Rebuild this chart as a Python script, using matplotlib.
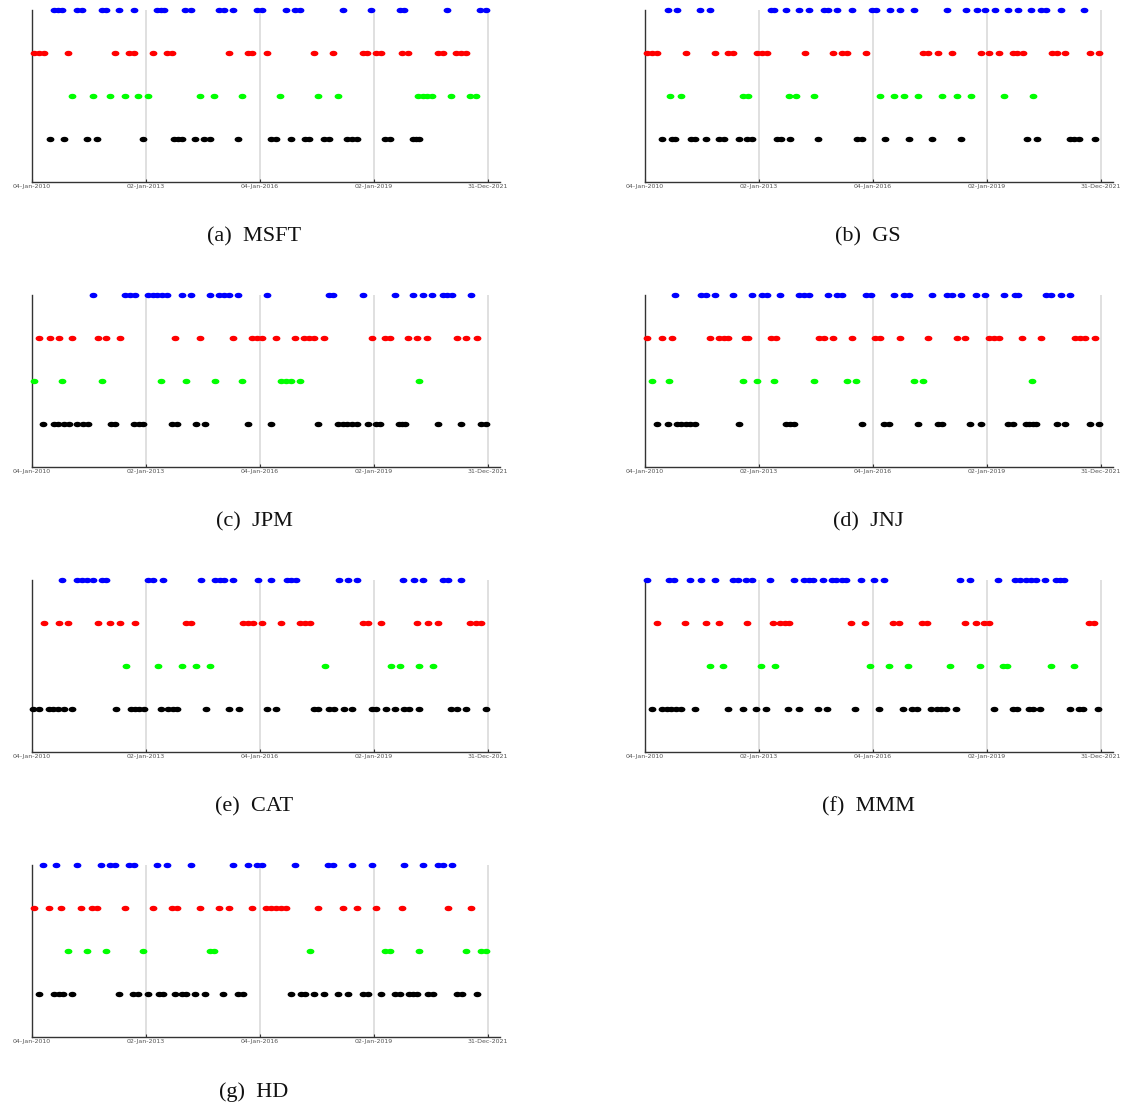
import numpy as np
import matplotlib
matplotlib.use("Agg")
import matplotlib.pyplot as plt
from matplotlib.path import Path

# --- Signal dates per stock (decimal years), one list per level ---
# level order: black (1), green (2), red (3), blue (4)

msft_black = [2010.47, 2010.84, 2011.46, 2011.72, 2012.94, 2013.75, 2013.84, 2013.95, 2014.30, 2014.54,
              2014.68, 2015.43, 2016.29, 2016.42, 2016.82, 2017.18, 2017.31, 2017.69, 2017.82, 2018.31,
              2018.43, 2018.55, 2019.30, 2019.43, 2020.04, 2020.11, 2020.19]
msft_green = [2011.06, 2011.61, 2012.06, 2012.46, 2012.81, 2013.06, 2014.44, 2014.81, 2015.54, 2016.54,
              2017.54, 2018.06, 2020.17, 2020.29, 2020.41, 2020.54, 2021.04, 2021.54, 2021.69]
msft_red = [2010.06, 2010.20, 2010.33, 2010.95, 2012.19, 2012.57, 2012.68, 2013.19, 2013.55, 2013.68,
            2015.18, 2015.68, 2015.81, 2016.18, 2017.42, 2017.92, 2018.71, 2018.83, 2019.05, 2019.18,
            2019.75, 2019.90, 2020.68, 2020.82, 2021.17, 2021.30, 2021.43]
msft_blue = [2010.60, 2010.70, 2010.81, 2011.18, 2011.32, 2011.84, 2011.96, 2012.31, 2012.69, 2013.31,
             2013.39, 2013.48, 2014.04, 2014.18, 2014.93, 2015.06, 2015.29, 2015.92, 2016.05, 2016.69,
             2016.93, 2017.06, 2018.18, 2018.94, 2019.69, 2019.81, 2020.92, 2021.80, 2021.95]

gs_black = [2010.46, 2010.71, 2010.80, 2011.21, 2011.32, 2011.61, 2011.96, 2012.08, 2012.47, 2012.68,
            2012.83, 2013.47, 2013.58, 2013.83, 2014.57, 2015.58, 2015.71, 2016.32, 2016.96, 2017.56,
            2018.33, 2020.06, 2020.32, 2021.19, 2021.31, 2021.44, 2021.85]
gs_green = [2010.66, 2010.95, 2012.60, 2012.72, 2013.80, 2013.97, 2014.46, 2016.19, 2016.56, 2016.83,
            2017.20, 2017.83, 2018.22, 2018.58, 2019.46, 2020.21]
gs_red = [2010.05, 2010.18, 2010.32, 2011.08, 2011.85, 2012.20, 2012.32, 2012.95, 2013.08, 2013.21,
          2014.21, 2014.96, 2015.20, 2015.32, 2015.82, 2017.33, 2017.46, 2017.73, 2018.08, 2018.86,
          2019.07, 2019.32, 2019.70, 2019.79, 2019.95, 2020.71, 2020.85, 2021.06, 2021.72, 2021.96]
gs_blue = [2010.61, 2010.85, 2011.46, 2011.73, 2013.32, 2013.40, 2013.71, 2014.07, 2014.32, 2014.72,
           2014.83, 2015.07, 2015.46, 2015.97, 2016.08, 2016.46, 2016.72, 2017.08, 2017.96, 2018.46,
           2018.74, 2018.96, 2019.21, 2019.57, 2019.82, 2020.16, 2020.43, 2020.56, 2020.96, 2021.56]

jpm_black = [2010.31, 2010.59, 2010.70, 2010.86, 2010.97, 2011.20, 2011.34, 2011.47, 2012.09, 2012.20,
             2012.68, 2012.82, 2012.94, 2013.70, 2013.82, 2014.32, 2014.56, 2015.68, 2016.30, 2017.54,
             2018.05, 2018.18, 2018.31, 2018.44, 2018.56, 2018.85, 2019.05, 2019.17, 2019.67, 2019.75,
             2019.82, 2020.69, 2021.30, 2021.82, 2021.95]
jpm_green = [2010.06, 2010.79, 2011.86, 2013.39, 2014.06, 2014.82, 2015.54, 2016.55, 2016.69, 2016.82,
             2017.06, 2020.18]
jpm_red = [2010.19, 2010.47, 2010.73, 2011.07, 2011.74, 2011.96, 2012.32, 2013.78, 2014.44, 2015.30,
           2015.81, 2015.94, 2016.05, 2016.43, 2016.93, 2017.17, 2017.31, 2017.43, 2017.69, 2018.95,
           2019.31, 2019.43, 2019.91, 2020.13, 2020.41, 2021.19, 2021.44, 2021.72]
jpm_blue = [2011.61, 2012.46, 2012.59, 2012.71, 2013.06, 2013.18, 2013.31, 2013.44, 2013.57, 2013.96,
            2014.19, 2014.69, 2014.94, 2015.06, 2015.18, 2015.43, 2016.18, 2017.82, 2017.93, 2018.71,
            2019.55, 2020.04, 2020.29, 2020.54, 2020.82, 2020.94, 2021.05, 2021.55]

jnj_black = [2010.32, 2010.61, 2010.84, 2010.96, 2011.08, 2011.20, 2011.32, 2012.47, 2013.71, 2013.82,
             2013.94, 2015.71, 2016.30, 2016.44, 2017.20, 2017.72, 2017.82, 2018.57, 2018.85, 2019.55,
             2019.69, 2020.04, 2020.12, 2020.21, 2020.30, 2020.84, 2021.06, 2021.72, 2021.96]
jnj_green = [2010.19, 2010.65, 2012.60, 2012.95, 2013.39, 2014.46, 2015.32, 2015.56, 2017.08, 2017.32,
             2020.20]
jnj_red = [2010.06, 2010.46, 2010.72, 2011.72, 2011.96, 2012.08, 2012.20, 2012.65, 2012.72, 2013.33,
           2013.46, 2014.59, 2014.71, 2014.96, 2015.46, 2016.07, 2016.19, 2016.73, 2017.46, 2018.21,
           2018.44, 2019.07, 2019.20, 2019.32, 2019.93, 2020.42, 2021.32, 2021.46, 2021.58, 2021.84]
jnj_blue = [2010.79, 2011.47, 2011.61, 2011.85, 2012.32, 2012.83, 2013.08, 2013.21, 2013.57, 2014.06,
            2014.19, 2014.32, 2014.82, 2015.07, 2015.20, 2015.82, 2015.96, 2016.56, 2016.83, 2016.96,
            2017.56, 2017.95, 2018.08, 2018.32, 2018.73, 2018.96, 2019.45, 2019.74, 2019.82, 2020.56,
            2020.69, 2020.96, 2021.20]

cat_black = [2010.04, 2010.20, 2010.46, 2010.57, 2010.68, 2010.85, 2011.07, 2012.21, 2012.61, 2012.72,
             2012.83, 2012.96, 2013.39, 2013.58, 2013.71, 2013.83, 2014.58, 2015.19, 2015.45, 2016.19,
             2016.44, 2017.43, 2017.54, 2017.83, 2017.95, 2018.21, 2018.44, 2018.95, 2019.07, 2019.32,
             2019.56, 2019.81, 2019.93, 2020.19, 2021.04, 2021.18, 2021.44, 2021.96]
cat_green = [2012.48, 2013.33, 2013.96, 2014.32, 2014.70, 2017.71, 2019.45, 2019.69, 2020.19, 2020.55]
cat_red = [2010.32, 2010.72, 2010.96, 2011.74, 2012.07, 2012.32, 2012.71, 2014.06, 2014.20, 2015.56,
           2015.69, 2015.82, 2016.06, 2016.55, 2017.06, 2017.19, 2017.32, 2018.73, 2018.85, 2019.20,
           2020.14, 2020.42, 2020.69, 2021.54, 2021.68, 2021.82]
cat_blue = [2010.79, 2011.19, 2011.32, 2011.46, 2011.61, 2011.84, 2011.96, 2013.07, 2013.20, 2013.46,
            2014.46, 2014.82, 2014.96, 2015.07, 2015.31, 2015.95, 2016.31, 2016.71, 2016.82, 2016.95,
            2018.08, 2018.32, 2018.57, 2019.76, 2020.05, 2020.30, 2020.83, 2020.95, 2021.30]

mmm_black = [2010.19, 2010.46, 2010.58, 2010.70, 2010.82, 2010.95, 2011.32, 2012.19, 2012.58, 2012.93,
             2013.19, 2013.77, 2014.05, 2014.55, 2014.81, 2015.54, 2016.17, 2016.81, 2017.04, 2017.16,
             2017.54, 2017.68, 2017.80, 2017.92, 2018.19, 2019.18, 2019.68, 2019.80, 2020.11, 2020.21,
             2020.41, 2021.18, 2021.43, 2021.54, 2021.93]
mmm_green = [2011.72, 2012.07, 2013.07, 2013.44, 2015.93, 2016.42, 2016.93, 2018.04, 2018.82, 2019.42,
             2019.54, 2020.68, 2021.29]
mmm_red = [2010.32, 2011.06, 2011.61, 2011.95, 2012.69, 2013.37, 2013.56, 2013.68, 2013.81, 2015.42,
           2015.81, 2016.54, 2016.68, 2017.31, 2017.43, 2018.43, 2018.71, 2018.93, 2019.05, 2021.69,
           2021.82]
mmm_blue = [2010.05, 2010.64, 2010.78, 2011.19, 2011.47, 2011.84, 2012.32, 2012.46, 2012.66, 2012.82,
            2013.31, 2013.94, 2014.19, 2014.32, 2014.44, 2014.68, 2014.92, 2015.04, 2015.18, 2015.30,
            2015.68, 2016.03, 2016.29, 2018.30, 2018.55, 2019.29, 2019.75, 2019.89, 2020.03, 2020.17,
            2020.29, 2020.54, 2020.82, 2020.93, 2021.04]

hd_black = [2010.19, 2010.60, 2010.71, 2010.83, 2011.06, 2012.30, 2012.67, 2012.81, 2013.06, 2013.36,
            2013.46, 2013.77, 2013.95, 2014.05, 2014.31, 2014.55, 2015.04, 2015.43, 2015.56, 2016.82,
            2017.09, 2017.19, 2017.43, 2017.69, 2018.06, 2018.32, 2018.73, 2018.85, 2019.19, 2019.56,
            2019.68, 2019.93, 2020.04, 2020.15, 2020.42, 2020.55, 2021.18, 2021.32, 2021.72]
hd_green = [2010.95, 2011.46, 2011.95, 2012.94, 2014.68, 2014.81, 2017.32, 2019.30, 2019.43, 2020.19,
            2021.44, 2021.82, 2021.95]
hd_red = [2010.06, 2010.46, 2010.78, 2011.31, 2011.59, 2011.72, 2012.46, 2013.19, 2013.68, 2013.82,
          2014.43, 2014.93, 2015.18, 2015.81, 2016.17, 2016.30, 2016.43, 2016.56, 2016.69, 2017.54,
          2018.20, 2018.56, 2019.05, 2019.75, 2020.95, 2021.55]
hd_blue = [2010.30, 2010.64, 2011.19, 2011.83, 2012.06, 2012.18, 2012.57, 2012.70, 2013.31, 2013.55,
           2014.18, 2015.30, 2015.68, 2015.93, 2016.05, 2016.93, 2017.81, 2017.93, 2018.42, 2018.95,
           2019.81, 2020.30, 2020.69, 2020.83, 2021.05]

captions = ["(a)  MSFT", "(b)  GS", "(c)  JPM", "(d)  JNJ", "(e)  CAT", "(f)  MMM", "(g)  HD"]
stocks = [
    (msft_black, msft_green, msft_red, msft_blue),
    (gs_black, gs_green, gs_red, gs_blue),
    (jpm_black, jpm_green, jpm_red, jpm_blue),
    (jnj_black, jnj_green, jnj_red, jnj_blue),
    (cat_black, cat_green, cat_red, cat_blue),
    (mmm_black, mmm_green, mmm_red, mmm_blue),
    (hd_black, hd_green, hd_red, hd_blue),
]

tick_years = [2010.01, 2013.0, 2016.01, 2019.0, 2021.997]
tick_labels = ["04-Jan-2010", "02-Jan-2013", "04-Jan-2016", "02-Jan-2019", "31-Dec-2021"]
level_colors = ["#000000", "#00ff00", "#ff0000", "#0000ff"]

# flattened ellipse marker (dots in the source are wider than tall)
theta = np.linspace(0, 2 * np.pi, 40)
ellipse = Path(np.column_stack([1.6 * np.cos(theta), np.sin(theta)]), closed=True)

W, H = 1124, 1108
fig = plt.figure(figsize=(W / 100, H / 100), dpi=100)

col_left = [31.7, 644.7]
col_width = 468.5
row_bottom = [181.7, 466.7, 751.7, 1036.7]
ax_height = 171.7
cap_x = [254, 868]
cap_y = [237, 522, 807, 1092]

for i, (levels, caption) in enumerate(zip(stocks, captions)):
    r, c = divmod(i, 2)
    ax = fig.add_axes([col_left[c] / W, 1 - row_bottom[r] / H, col_width / W, ax_height / H])

    for lvl, (dates, color) in enumerate(zip(levels, level_colors), start=1):
        ax.plot(dates, [lvl] * len(dates), linestyle="none", marker=ellipse,
                markersize=4.6, color=color, clip_on=False, zorder=3)

    ax.set_xlim(2010.0, 2022.33)
    ax.set_ylim(0, 4)
    ax.set_xticks(tick_years)
    ax.set_xticklabels(tick_labels, fontsize=4.5, color="#555555")
    ax.set_yticks([])
    ax.tick_params(axis="x", direction="in", length=2.5, width=0.8, pad=2, color="#333333")
    ax.grid(True, axis="x", color="#dddddd", linewidth=1.3)
    ax.set_axisbelow(True)
    for side in ["top", "right"]:
        ax.spines[side].set_visible(False)
    for side in ["left", "bottom"]:
        ax.spines[side].set_color("#333333")
        ax.spines[side].set_linewidth(1.0)

    fig.text(cap_x[c] / W, 1 - cap_y[r] / H, caption, ha="center", va="center",
             fontsize=16, family="Liberation Serif", color="#111111")

fig.savefig("out.png", dpi=100)
